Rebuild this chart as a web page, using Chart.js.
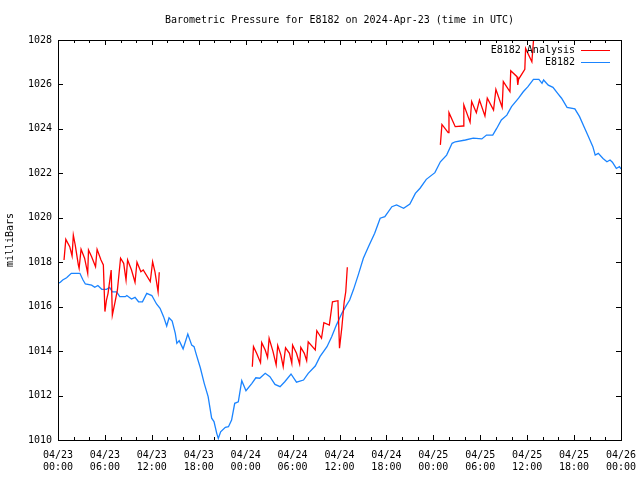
<!DOCTYPE html>
<html>
<head>
<meta charset="utf-8">
<script src="https://cdn.jsdelivr.net/npm/chart.js@4"></script>
<style>
  body { margin: 0; background: #fff; }
</style>
</head>
<body>
<canvas id="chart" width="640" height="480"></canvas>
<script>
// hours since 2024-04-23 00:00 UTC
const stationHours = [0, 0.3, 0.6, 1.1, 1.7, 2.8, 3.2, 3.5, 4.3, 4.7, 5.1, 5.6, 6.2, 6.6, 6.95, 7.5, 7.9, 8.6, 8.8, 9.4,
  9.85, 10.3, 10.8, 11.35, 12, 12.6, 13.05, 13.5, 13.9, 14.2, 14.6, 15, 15.2, 15.5, 16, 16.6, 17.1, 17.4, 17.7, 18.2,
  18.7, 19.2, 19.65, 19.95, 20.3, 20.5, 20.8, 21.4, 21.8, 22.2, 22.6, 23.06, 23.5, 24.04, 24.8, 25.3, 25.8, 26.5, 27.1, 27.75,
  28.4, 29, 29.8, 30.5, 31.4, 32, 32.9, 33.5, 34.4, 35, 35.6, 36.3, 36.9, 37.3, 37.8, 38.4, 39.05, 39.7, 40.5, 41.2,
  41.8, 42.7, 43.3, 44.2, 45, 45.7, 46.3, 47.1, 48.2, 48.9, 49.7, 50.4, 50.8, 52.1, 53.1, 54.2, 54.8, 55.6, 56.1, 56.7,
  57.4, 58, 58.9, 59.5, 60.1, 60.8, 61.5, 61.9, 62.1, 62.7, 63.3, 63.9, 64.4, 65.1, 66.1, 66.7, 67.3, 67.8, 68.4, 68.7,
  69.1, 69.7, 70.2, 70.6, 70.9, 71.4, 71.8, 72];
const stationPressure = [1017.05, 1017.1, 1017.2, 1017.3, 1017.5, 1017.5, 1017.2, 1017.02, 1016.97, 1016.87, 1016.95, 1016.78, 1016.78, 1016.87, 1016.67, 1016.67, 1016.45, 1016.45, 1016.5, 1016.34,
  1016.42, 1016.22, 1016.22, 1016.6, 1016.5, 1016.12, 1015.93, 1015.55, 1015.13, 1015.5, 1015.35, 1014.8, 1014.35, 1014.47, 1014.1, 1014.77, 1014.27, 1014.2, 1013.83, 1013.25,
  1012.55, 1011.95, 1010.98, 1010.83, 1010.3, 1010.07, 1010.37, 1010.57, 1010.6, 1010.9, 1011.65, 1011.72, 1012.67, 1012.22, 1012.55, 1012.8, 1012.78, 1013.0, 1012.85, 1012.5,
  1012.4, 1012.62, 1012.97, 1012.6, 1012.7, 1013.0, 1013.33, 1013.75, 1014.2, 1014.65, 1015.17, 1015.7, 1016.07, 1016.3, 1016.78, 1017.43, 1018.18, 1018.7, 1019.3, 1019.98,
  1020.05, 1020.5, 1020.58, 1020.43, 1020.62, 1021.1, 1021.33, 1021.73, 1022.03, 1022.52, 1022.82, 1023.35, 1023.42, 1023.5, 1023.58, 1023.55, 1023.72, 1023.72, 1024.02, 1024.4,
  1024.62, 1025.0, 1025.38, 1025.67, 1025.9, 1026.23, 1026.23, 1026.05, 1026.2, 1025.97, 1025.87, 1025.6, 1025.38, 1024.97, 1024.9, 1024.55, 1024.07, 1023.68, 1023.2, 1022.82,
  1022.9, 1022.67, 1022.52, 1022.6, 1022.5, 1022.22, 1022.3, 1022.2];

// analysis runs, null = gap between runs
const analysisHours = [0.77, 1.0, 1.5, 1.8, 1.96, 2.2, 2.6, 2.7, 2.95, 3.4, 3.8, 3.9, 4.3, 4.8, 5.0, 5.5, 5.8, 6.0, 6.2, 6.4,
  6.8, 6.95, 7.3, 7.6, 8.0, 8.4, 8.7, 8.9, 9.4, 9.85, 10.1, 10.6, 10.9, 11.8, 12.1, 12.4, 12.8, 12.95,
  18,
  24.85, 25.0, 25.4, 25.9, 26.05, 26.5, 26.8, 27.0, 27.5, 27.9, 28.1, 28.5, 28.8, 29.1, 29.6, 29.9, 30.0, 30.5, 30.9, 31.05,
  31.5, 31.8, 32.0, 32.9, 33.1, 33.7, 34.0, 34.7, 35.1, 35.8, 36.0, 36.3, 36.6, 36.8, 37.0,
  42,
  48.9, 49.1, 49.9, 50.0, 50.8, 51.8, 51.9, 52.7, 52.9, 53.5, 53.9, 54.6, 54.9, 55.7, 56.0, 56.8, 56.95, 57.8, 57.9, 58.7,
  58.8, 58.9, 59.7, 59.8, 60.6, 60.9];
const analysisPressure = [1018.1, 1019.03, 1018.7, 1018.28, 1019.22, 1018.78, 1017.88, 1017.73, 1018.58, 1018.18, 1017.5, 1018.55, 1018.25, 1017.8, 1018.58, 1018.1, 1017.88, 1015.78, 1016.3, 1016.6,
  1017.65, 1015.62, 1016.22, 1016.75, 1018.18, 1017.95, 1017.2, 1018.1, 1017.65, 1017.1, 1018.0, 1017.57, 1017.65, 1017.13, 1018.02, 1017.57, 1016.67, 1017.55,
  null,
  1013.3, 1014.2, 1013.9, 1013.48, 1014.38, 1014.05, 1013.72, 1014.58, 1013.98, 1013.38, 1014.25, 1013.83, 1013.3, 1014.15, 1013.9, 1013.45, 1014.27, 1013.9, 1013.42, 1014.17,
  1013.9, 1013.57, 1014.42, 1014.05, 1014.92, 1014.58, 1015.28, 1015.17, 1016.22, 1016.27, 1014.13, 1015.07, 1016.22, 1016.67, 1017.77,
  null,
  1023.28, 1024.2, 1023.83, 1024.73, 1024.1, 1024.13, 1025.08, 1024.3, 1025.23, 1024.73, 1025.3, 1024.58, 1025.38, 1024.85, 1025.78, 1024.97, 1026.13, 1025.67, 1026.62, 1026.35,
  1025.98, 1026.23, 1026.68, 1027.62, 1027.02, 1028.4];

const dayLabels = ['04/23', '04/24', '04/25', '04/26'];
const timeLabels = ['00:00', '06:00', '12:00', '18:00'];
const seriesNames = ['E8182 Analysis', 'E8182'];
const seriesColors = ['#ff0000', '#1a84ff'];

const FONT = '10px "DejaVu Sans Mono", monospace';

function toPoints(xs, ys) {
  return xs.map((x, i) => ({ x: x, y: ys[i] }));
}

// title, legend, frame and gnuplot style inward ticks
const framePlugin = {
  id: 'frame',
  afterDraw(chart) {
    const ctx = chart.ctx, a = chart.chartArea;
    const xs = chart.scales.x, ys = chart.scales.y;
    ctx.save();
    ctx.strokeStyle = '#000';
    ctx.lineWidth = 1;
    ctx.strokeRect(Math.round(a.left) + 0.5, Math.round(a.top) + 0.5, Math.round(a.right - a.left), Math.round(a.bottom - a.top));
    ctx.beginPath();
    for (let h = 0; h <= 72; h += 2) {
      const px = Math.round(xs.getPixelForValue(h)) + 0.5;
      const len = h % 6 === 0 ? 5 : 3;
      ctx.moveTo(px, a.bottom); ctx.lineTo(px, a.bottom - len);
      ctx.moveTo(px, a.top); ctx.lineTo(px, a.top + len);
    }
    for (let v = 1010; v <= 1028; v += 2) {
      const py = Math.round(ys.getPixelForValue(v)) + 0.5;
      ctx.moveTo(a.left, py); ctx.lineTo(a.left + 5, py);
      ctx.moveTo(a.right, py); ctx.lineTo(a.right - 5, py);
    }
    ctx.stroke();

    ctx.fillStyle = '#000';
    ctx.font = FONT;
    ctx.textAlign = 'center';
    ctx.textBaseline = 'middle';
    ctx.fillText('Barometric Pressure for E8182 on 2024-Apr-23 (time in UTC)', (a.left + a.right) / 2, 20);

    ctx.textAlign = 'right';
    seriesNames.forEach((name, i) => {
      const y = 50 + i * 12;
      ctx.fillStyle = '#000';
      ctx.fillText(name, a.right - 46, y);
      ctx.strokeStyle = seriesColors[i];
      ctx.beginPath();
      ctx.moveTo(a.right - 40, y + 0.5);
      ctx.lineTo(a.right - 11, y + 0.5);
      ctx.stroke();
    });
    ctx.restore();
  }
};

new Chart(document.getElementById('chart'), {
  type: 'line',
  data: {
    datasets: [{
      label: seriesNames[0],
      data: toPoints(analysisHours, analysisPressure),
      borderColor: seriesColors[0],
      borderWidth: 1.3,
      pointRadius: 0,
      spanGaps: false,
      tension: 0
    }, {
      label: seriesNames[1],
      data: toPoints(stationHours, stationPressure),
      borderColor: seriesColors[1],
      borderWidth: 1.3,
      pointRadius: 0,
      tension: 0
    }]
  },
  options: {
    responsive: false,
    animation: false,
    devicePixelRatio: 1,
    layout: { padding: { top: 40, right: 19, left: 0, bottom: 0 } },
    plugins: {
      legend: { display: false },
      title: { display: false },
      tooltip: { enabled: false }
    },
    scales: {
      x: {
        type: 'linear',
        min: 0,
        max: 72,
        afterFit: scale => {
          scale.height = 40;
          scale.paddingLeft = 0;
          scale.paddingRight = 0;
        },
        grid: { display: false, drawTicks: false },
        border: { display: false },
        ticks: {
          stepSize: 2,
          autoSkip: false,
          maxRotation: 0,
          padding: 9,
          color: '#000',
          font: { family: '"DejaVu Sans Mono", monospace', size: 10 },
          callback: value => {
            if (value % 6 !== 0) return '';
            return [dayLabels[Math.floor(value / 24)], timeLabels[(value % 24) / 6]];
          }
        }
      },
      y: {
        min: 1010,
        max: 1028,
        afterFit: scale => {
          scale.width = 58;
          scale.paddingTop = 0;
          scale.paddingBottom = 0;
        },
        grid: { display: false, drawTicks: false },
        border: { display: false },
        ticks: {
          stepSize: 2,
          padding: 6,
          color: '#000',
          font: { family: '"DejaVu Sans Mono", monospace', size: 10 },
          callback: value => String(value)
        },
        title: {
          display: true,
          text: 'milliBars',
          color: '#000',
          padding: { top: 4, bottom: 0 },
          font: { family: '"DejaVu Sans Mono", monospace', size: 10 }
        }
      }
    }
  },
  plugins: [framePlugin]
});
</script>
</body>
</html>
